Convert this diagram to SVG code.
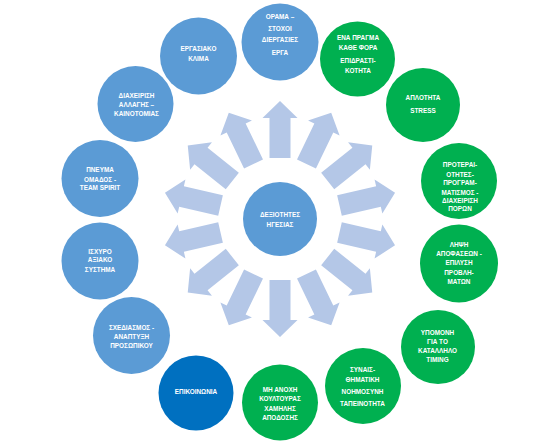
<svg xmlns="http://www.w3.org/2000/svg" width="558" height="447" viewBox="0 0 558 447">
<defs>
<style>
.b{fill:#5B9BD5}
.g{fill:#00B050}
.d{fill:#0070C0}
.arr{fill:#B4C7E7}
text{font-family:"Liberation Sans",Arial,sans-serif;font-size:6.4px;font-weight:bold;fill:#FFFFFF;text-anchor:middle}
</style>
<path id="ar" d="M61,-10.5 L101,-10.5 L101,-17.5 L118,0 L101,17.5 L101,10.5 L61,10.5 Z"/>
</defs>
<rect width="558" height="447" fill="#FFFFFF"/>
<g id="connectors" class="arr" transform="translate(280,219)">
<use href="#ar" transform="rotate(-90)"/>
<use href="#ar" transform="rotate(-64.286)"/>
<use href="#ar" transform="rotate(-38.571)"/>
<use href="#ar" transform="rotate(-12.857)"/>
<use href="#ar" transform="rotate(12.857)"/>
<use href="#ar" transform="rotate(38.571)"/>
<use href="#ar" transform="rotate(64.286)"/>
<use href="#ar" transform="rotate(90)"/>
<use href="#ar" transform="rotate(115.714)"/>
<use href="#ar" transform="rotate(141.429)"/>
<use href="#ar" transform="rotate(167.143)"/>
<use href="#ar" transform="rotate(192.857)"/>
<use href="#ar" transform="rotate(218.571)"/>
<use href="#ar" transform="rotate(244.286)"/>
</g>
<g id="center"><circle class="b" cx="280" cy="219" r="37"/>
<text x="280" y="216.6">ΔΕΞΙΟΤΗΤΕΣ</text><text x="280" y="226.6">ΗΓΕΣΙΑΣ</text></g>
<g id="n1"><circle class="b" cx="280" cy="42" r="38.5"/>
<text x="280" y="19">ΟΡΑΜΑ –</text><text x="280" y="30.6">ΣΤΟΧΟΙ</text><text x="280" y="42.3">ΔΙΕΡΓΑΣΙΕΣ</text><text x="280" y="55">ΕΡΓΑ</text></g>
<g id="n2"><circle class="g" cx="357.5" cy="59" r="37.5"/>
<text x="358" y="40">ΕΝΑ ΠΡΑΓΜΑ</text><text x="358" y="50">ΚΑΘΕ ΦΟΡΑ</text><text x="358" y="63.3">ΕΠΙΔΡΑΣΤΙ-</text><text x="358" y="73">ΚΟΤΗΤΑ</text></g>
<g id="n3"><circle class="g" cx="423" cy="105" r="37"/>
<text x="423" y="100.3">ΑΠΛΟΤΗΤΑ</text><text x="423" y="113.3">STRESS</text></g>
<g id="n4"><circle class="g" cx="459" cy="181" r="38"/>
<text x="460" y="167.3">ΠΡΟΤΕΡΑΙ-</text><text x="460" y="176.8">ΟΤΗΤΕΣ-</text><text x="460" y="185.3">ΠΡΟΓΡΑΜ-</text><text x="460" y="194.8">ΜΑΤΙΣΜΟΣ -</text><text x="460" y="203.3">ΔΙΑΧΕΙΡΙΣΗ</text><text x="460" y="210.8">ΠΟΡΩΝ</text></g>
<g id="n5"><circle class="g" cx="459" cy="263.5" r="39"/>
<text x="459" y="247.3">ΛΗΨΗ</text><text x="459" y="256.3">ΑΠΟΦΑΣΕΩΝ  -</text><text x="459" y="265.3">ΕΠΙΛΥΣΗ</text><text x="459" y="275.3">ΠΡΟΒΛΗ-</text><text x="459" y="284.3">ΜΑΤΩΝ</text></g>
<g id="n6"><circle class="g" cx="438" cy="347" r="37"/>
<text x="437.5" y="335.3">ΥΠΟΜΟΝΗ</text><text x="437.5" y="344.3">ΓΙΑ ΤΟ</text><text x="437.5" y="353.3">ΚΑΤΑΛΛΗΛΟ</text><text x="437.5" y="362.3">TIMING</text></g>
<g id="n7"><circle class="g" cx="363" cy="386" r="38"/>
<text x="362.5" y="371.6">ΣΥΝΑΙΣ-</text><text x="362.5" y="381.6">ΘΗΜΑΤΙΚΗ</text><text x="362.5" y="394">ΝΟΗΜΟΣΥΝΗ</text><text x="362.5" y="405.6">ΤΑΠΕΙΝΟΤΗΤΑ</text></g>
<g id="n8"><circle class="g" cx="280" cy="402.5" r="38"/>
<text x="280" y="392.3">ΜΗ ΑΝΟΧΗ</text><text x="280" y="401.3">ΚΟΥΛΤΟΥΡΑΣ</text><text x="280" y="411.3">ΧΑΜΗΛΗΣ</text><text x="280" y="420.3">ΑΠΟΔΟΣΗΣ</text></g>
<g id="n9"><circle class="d" cx="196" cy="393" r="37.5"/>
<text x="196" y="394.3">ΕΠΙΚΟΙΝΩΝΙΑ</text></g>
<g id="n10"><circle class="b" cx="131.5" cy="335.5" r="38.5"/>
<text x="131.5" y="330.3">ΣΧΕΔΙΑΣΜΟΣ  -</text><text x="131.5" y="339">ΑΝΑΠΤΥΞΗ</text><text x="131.5" y="348">ΠΡΟΣΩΠΙΚΟΥ</text></g>
<g id="n11"><circle class="b" cx="100" cy="261" r="38.5"/>
<text x="100" y="254">ΙΣΧΥΡΟ</text><text x="100" y="262.3">ΑΞΙΑΚΟ</text><text x="100" y="271.6">ΣΥΣΤΗΜΑ</text></g>
<g id="n12"><circle class="b" cx="100" cy="178.5" r="38.5"/>
<text x="100" y="172.3">ΠΝΕΥΜΑ</text><text x="100" y="181.6">ΟΜΑΔΟΣ -</text><text x="100" y="190">TEAM  SPIRIT</text></g>
<g id="n13"><circle class="b" cx="135.5" cy="104" r="38"/>
<text x="136.5" y="98">ΔΙΑΧΕΙΡΙΣΗ</text><text x="136.5" y="106.6">ΑΛΛΑΓΗΣ –</text><text x="136.5" y="115.6">ΚΑΙΝΟΤΟΜΙΑΣ</text></g>
<g id="n14"><circle class="b" cx="198.5" cy="56" r="38.5"/>
<text x="198.5" y="51.3">ΕΡΓΑΣΙΑΚΟ</text><text x="198.5" y="61.3">ΚΛΙΜΑ</text></g>
</svg>
